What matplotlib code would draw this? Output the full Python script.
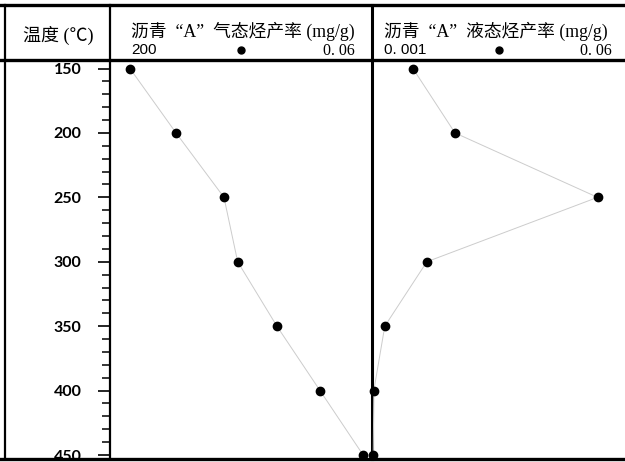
import numpy as np
import matplotlib.pyplot as plt
from matplotlib.ticker import MultipleLocator, NullLocator

plt.rcParams['font.family'] = ['Liberation Serif', 'Noto Sans CJK SC']

temps = [150, 200, 250, 300, 350, 400, 450]
gas_yield = [107.7, 25.9, 5.87, 3.84, 1.14, 0.30, 0.079]
liquid_yield = [0.00194, 0.00383, 0.0385, 0.00243, 0.00123, 0.00103, 0.00102]

gas_range = (200, 0.06)
liquid_range = (0.001, 0.06)
temp_label = '温度 (℃)'
gas_title = '沥青  “A”  气态烃产率 (mg/g)'
liquid_title = '沥青  “A”  液态烃产率 (mg/g)'

W, H = 625, 462
fig = plt.figure(figsize=(W / 100, H / 100), dpi=100)


def box(x0, y0, x1, y1):
    # pixel box -> figure fraction rect
    return [x0 / W, 1 - y1 / H, (x1 - x0) / W, (y1 - y0) / H]


# frame and header drawn in pixel units
bg = fig.add_axes([0, 0, 1, 1])
bg.set_xlim(0, W)
bg.set_ylim(H, 0)
bg.axis('off')
bg.plot([0, W], [5, 5], color='black', lw=2.4)
bg.plot([0, W], [60, 60], color='black', lw=2.4)
bg.plot([0, W], [459, 459], color='black', lw=2.4)
bg.plot([5, 5], [5, 459], color='black', lw=1.6)
bg.plot([110, 110], [5, 459], color='black', lw=1.6)
bg.plot([372, 372], [5, 459], color='black', lw=2.2)

bg.text(58, 35, temp_label, ha='center', va='center', fontsize=13)
bg.text(131, 31, gas_title, ha='left', va='center', fontsize=12.8)
bg.text(131, 50, str(gas_range[0]), ha='left', va='center', fontsize=11,
        family='Liberation Sans')
bg.plot(241, 50, 'o', color='black', ms=5)
bg.text(355, 51, '0. 06', ha='right', va='center', fontsize=11.5)
bg.text(384, 31, liquid_title, ha='left', va='center', fontsize=12.8)
bg.text(384, 50, '0. 001', ha='left', va='center', fontsize=11,
        family='Liberation Sans')
bg.plot(499, 50, 'o', color='black', ms=5)
bg.text(612, 51, '0. 06', ha='right', va='center', fontsize=11.5)

ax1 = fig.add_axes(box(110, 60, 372, 459))
ax2 = fig.add_axes(box(372, 60, 625, 459))

for ax, vals, rng in [(ax1, gas_yield, gas_range), (ax2, liquid_yield, liquid_range)]:
    ax.set_xscale('log')
    ax.set_xlim(*rng)
    ax.set_ylim(453.1, 143.4)
    ax.plot(vals, temps, '-', color='#cccccc', lw=0.7, zorder=1)
    ax.plot(vals, temps, 'o', color='black', ms=6, zorder=3, clip_on=False)
    ax.xaxis.set_major_locator(NullLocator())
    ax.xaxis.set_minor_locator(NullLocator())
    for s in ax.spines.values():
        s.set_visible(False)
    ax.patch.set_alpha(0)

ax1.yaxis.set_major_locator(MultipleLocator(50))
ax1.yaxis.set_minor_locator(MultipleLocator(10))
ax1.tick_params(axis='y', which='major', length=9, width=1.2, pad=11.5,
                labelsize=11.5)
ax1.tick_params(axis='y', which='minor', length=5.5, width=1.1)
for lab in ax1.get_yticklabels():
    lab.set_family('Lato')
    lab.set_fontweight('bold')
ax2.set_yticks([])

fig.savefig('out.png', dpi=100)
